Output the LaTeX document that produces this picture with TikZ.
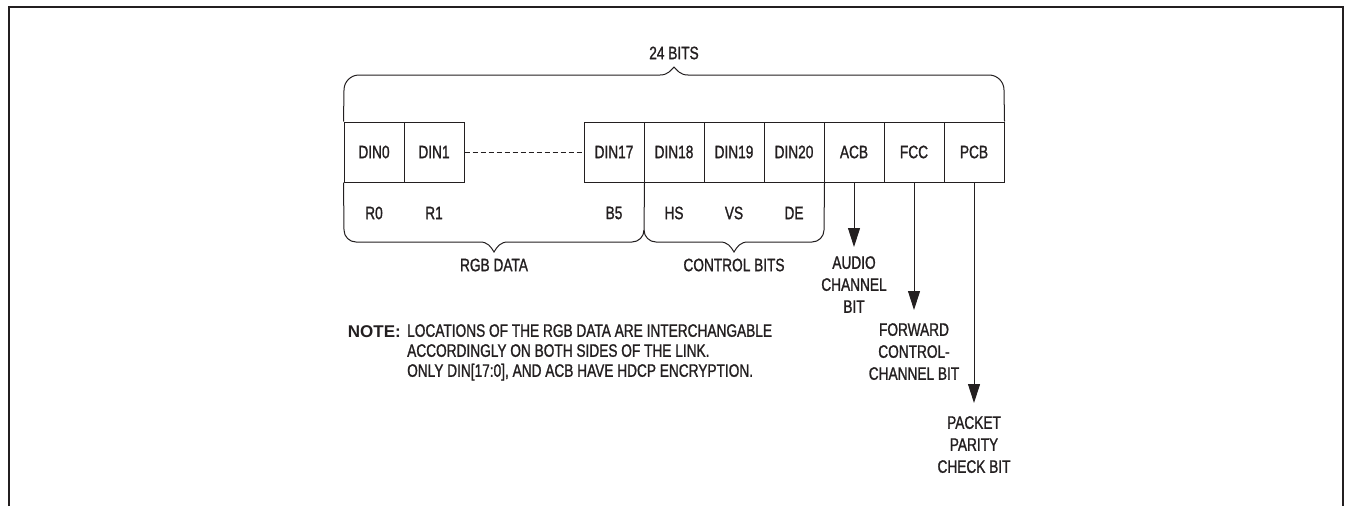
\documentclass[tikz,border=0pt]{standalone}
\usepackage{fontspec}
\setmainfont[FakeStretch=0.76,FakeBold=1.2]{Liberation Sans}
\setsansfont{Liberation Sans}
\usetikzlibrary{arrows.meta}
\definecolor{ink}{HTML}{231F20}
\begin{document}
\begin{tikzpicture}[x=1pt,y=-1pt,
  font=\fontsize{18}{22}\selectfont,
  bitbox/.style={draw=ink, line width=1pt, minimum width=60pt, minimum height=60pt, inner sep=0pt, text=ink},
  lbl/.style={text=ink, inner sep=0pt},
  bracepath/.style={draw=ink, line width=1pt},
  sig/.style={draw=ink, line width=1pt, -{Triangle[length=19pt,width=12pt]}},
  framepath/.style={draw=ink, line width=1.6pt}]
\useasboundingbox (0,0) rectangle (1348,506);
% frame
\draw[framepath] (9,506) -- (9,7) -- (1343,7) -- (1343,506);
% boxes
\node[bitbox] (d0)  at (374,152) {DIN0};
\node[bitbox] (d1)  at (434,152) {DIN1};
\node[bitbox] (d17) at (614,152) {DIN17};
\node[bitbox] (d18) at (674,152) {DIN18};
\node[bitbox] (d19) at (734,152) {DIN19};
\node[bitbox] (d20) at (794,152) {DIN20};
\node[bitbox] (acb) at (854,152) {ACB};
\node[bitbox] (fcc) at (914,152) {FCC};
\node[bitbox] (pcb) at (974,152) {PCB};
\draw[draw=ink, line width=1pt, dash pattern=on 5pt off 3pt] (d1.east) -- (d17.west);
% labels under boxes
\node[lbl] (r0) at (374,213) {R0};
\node[lbl] (r1) at (434,213) {R1};
\node[lbl] (b5) at (614,213) {B5};
\node[lbl] (hs) at (674,213) {HS};
\node[lbl] (vs) at (734,213) {VS};
\node[lbl] (de) at (794,213) {DE};
% top brace
\node[lbl] (bits) at (674,53) {24 BITS};
\draw[bracepath] (d0.north west) -- (344,90) arc[start angle=180,end angle=90,radius=15pt]
  -- (660,75) .. controls (668,75) and (671,70) .. (674,67)
  .. controls (677,70) and (680,75) .. (688,75)
  -- (989,75) arc[start angle=90,end angle=0,radius=15pt] -- (pcb.north east);
% RGB brace
\draw[bracepath] (d0.south west) -- (344,230) arc[start angle=180,end angle=270,radius=12pt]
  -- (480,242) .. controls (488,242) and (491,247) .. (494,252)
  .. controls (497,247) and (500,242) .. (508,242)
  -- (632,242) arc[start angle=270,end angle=360,radius=12pt] -- (d17.south east);
\node[lbl] (rgb) at (494,265) {RGB DATA};
% control brace
\draw[bracepath] (644,230) arc[start angle=180,end angle=270,radius=12pt]
  -- (720,242) .. controls (728,242) and (731,247) .. (734,252)
  .. controls (737,247) and (740,242) .. (748,242)
  -- (812,242) arc[start angle=270,end angle=360,radius=12pt] -- (d20.south east);
\node[lbl] (ctl) at (734,265) {CONTROL BITS};
% arrows
\coordinate (acbtip) at (854,247);
\coordinate (fcctip) at (914,310);
\coordinate (pcbtip) at (974,403);
\draw[sig] (acb.south) -- (acbtip);
\draw[sig] (fcc.south) -- (fcctip);
\draw[sig] (pcb.south) -- (pcbtip);
\node[lbl, anchor=north, align=center] (acblab) at (854,256) {AUDIO\\CHANNEL\\BIT};
\node[lbl, anchor=north, align=center] (fcclab) at (914,323) {FORWARD\\CONTROL-\\CHANNEL BIT};
\node[lbl, anchor=north, align=center] (pcblab) at (974,416) {PACKET\\PARITY\\CHECK BIT};
% note
\node[lbl, anchor=base east, font=\fontsize{17}{20}\selectfont\sffamily\bfseries] (notehd) at (401,337) {NOTE:};
\node[lbl, anchor=north west, align=left, font=\fontsize{18}{20}\selectfont] (notetx) at (407,324)
  {LOCATIONS OF THE RGB DATA ARE INTERCHANGABLE\\ACCORDINGLY ON BOTH SIDES OF THE LINK.\\ONLY DIN[17:0], AND ACB HAVE HDCP ENCRYPTION.};
\end{tikzpicture}
\end{document}
